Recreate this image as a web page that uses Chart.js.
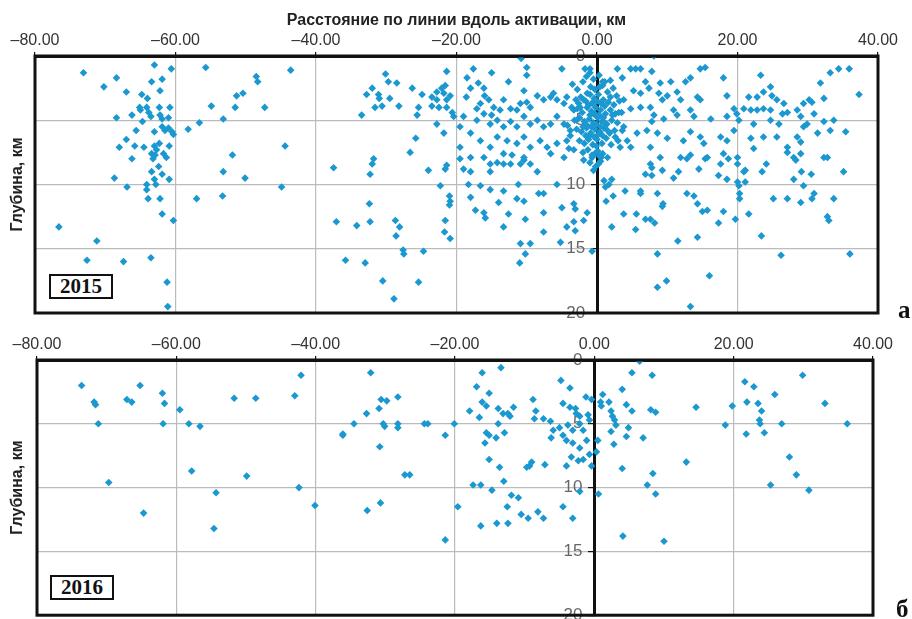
<!DOCTYPE html>
<html>
<head>
<meta charset="utf-8">
<script src="https://cdn.jsdelivr.net/npm/chart.js@4.4.1/dist/chart.umd.min.js"></script>
<style>
body { margin: 0; background: #fff; width: 912px; height: 619px; overflow: hidden; position: relative; }
canvas { position: absolute; left: 0; top: 0; }
.year { position: absolute; border: 2px solid #111; background: #fff; font: bold 21px "Liberation Serif", serif; color: #111; text-align: center; line-height: 21px; width: 60px; height: 21px; }
.panel { position: absolute; font: bold 25px "Liberation Serif", serif; color: #111; }
</style>
</head>
<body>
<canvas id="chart2015" width="912" height="619"></canvas>
<canvas id="chart2016" width="912" height="619"></canvas>
<div class="year" style="left:49px;top:274px">2015</div>
<div class="year" style="left:50px;top:575px">2016</div>
<div class="panel" style="left:898px;top:296px">а</div>
<div class="panel" style="left:896px;top:595px">б</div>
<script>
// axis ticks
const distTicks = [-80, -60, -40, -20, 0, 20, 40];
const depthTicks = [0, 5, 10, 15, 20];

// [distance along the line, km ; depth, km]
const quakes2015 = [
  [-73.1,1.3],[-63.0,0.7],[-60.6,1.0],[-55.7,0.9],[-70.2,2.4],[-68.4,1.7],[-63.4,2.0],[-61.9,1.8],[-67.0,2.8],[-64.8,3.0],
  [-64.0,3.3],[-62.2,2.7],[-48.5,1.6],[-48.3,2.0],[-43.6,1.1],[-51.3,3.1],[-50.4,2.9],[-54.9,3.9],[-51.5,4.0],[-47.3,4.0],
  [-65.1,4.0],[-65.0,4.2],[-64.1,4.0],[-63.8,4.4],[-62.3,4.0],[-60.8,4.0],[-63.5,4.7],[-62.2,4.6],[-61.9,4.9],[-61.0,4.8],
  [-68.4,4.8],[-66.2,4.6],[-64.7,5.1],[-53.2,4.9],[-56.6,5.2],[-58.2,5.7],[-65.6,5.8],[-63.0,5.9],[-61.9,5.5],[-61.5,5.8],
  [-61.0,5.6],[-60.3,6.1],[-60.5,5.9],[-67.0,6.5],[-68.0,7.1],[-65.8,7.0],[-64.5,7.1],[-63.0,7.0],[-62.7,7.3],[-62.3,6.8],
  [-60.9,7.0],[-63.4,7.6],[-62.9,7.7],[-61.7,7.6],[-61.3,7.9],[-66.2,8.0],[-51.9,7.7],[-44.4,7.0],
  [-63.2,8.0],[-62.4,8.6],[-63.4,9.0],[-61.9,9.2],[-63.0,9.6],[-60.9,9.6],[-62.8,10.0],[-64.1,10.0],[-64.1,10.4],[-68.7,9.5],
  [-66.9,10.2],[-63.9,11.1],[-62.2,11.1],[-61.9,12.3],[-60.3,12.8],[-76.6,13.3],[-71.2,14.4],[-72.6,15.9],[-67.4,16.0],[-63.5,15.7],
  [-61.2,17.6],[-61.1,19.5],[-53.2,9.0],[-50.1,9.5],[-57.0,11.1],[-53.3,10.9],[-44.9,10.2],
  [-10.8,0.2],[-17.6,1.0],[-15.0,1.3],[-10.0,0.9],[-10.0,1.5],[-5.0,1.0],[-1.7,1.0],[-1.0,1.0],[-30.1,1.4],[-29.7,2.0],
  [-28.5,2.1],[-32.0,2.5],[-32.8,3.0],[-31.1,3.0],[-31.0,3.3],[-29.5,3.3],[-31.6,4.0],[-30.6,3.9],[-28.2,3.9],[-33.5,4.6],
  [-26.3,2.5],[-21.4,1.2],[-24.9,3.0],[-25.4,4.0],[-25.6,4.6],[-23.5,3.2],[-22.8,2.8],[-22.1,2.5],[-21.6,2.3],[-21.8,2.9],
  [-22.8,3.4],[-22.5,4.0],[-23.5,3.9],[-21.4,3.4],[-20.9,3.1],[-21.4,4.0],[-20.6,4.4],[-20.4,4.7],[-22.8,5.3],[-21.8,6.0],
  [-25.8,6.4],[-26.6,7.5],[-19.0,4.7],[-18.5,1.7],[-18.0,2.5],[-18.6,3.2],[-16.9,2.1],[-16.1,2.5],[-16.0,3.1],[-15.4,3.4],
  [-16.6,3.7],[-17.1,4.1],[-14.7,4.0],[-16.1,4.5],[-15.0,4.6],[-17.1,5.0],[-15.2,5.3],[-13.8,4.2],[-13.3,3.4],[-12.6,2.0],
  [-12.3,4.1],[-11.4,4.2],[-10.9,3.7],[-10.0,3.6],[-9.5,4.0],[-10.4,2.7],[-8.5,3.1],[-7.6,3.4],[-6.6,3.2],[-6.2,2.9],
  [-5.7,3.4],[-4.7,3.7],[-4.3,3.2],[-3.3,4.2],[-2.4,4.0],[-1.9,3.4],[-1.4,2.9],[-0.9,2.4],[-0.7,3.7],[-0.5,4.5],
  [-14.2,5.0],[-13.3,5.5],[-12.3,5.1],[-11.4,5.5],[-10.4,4.7],[-9.5,5.3],[-8.5,5.0],[-7.6,5.5],[-6.6,5.3],[-5.7,4.7],
  [-4.7,5.3],[-3.8,5.8],[-2.9,5.0],[-14.2,6.3],[-12.8,6.6],[-11.4,6.8],[-10.4,6.3],[-9.5,7.1],[-8.1,6.6],[-7.1,7.1],
  [-5.7,6.8],[-4.3,6.6],[-3.3,7.3],[-15.2,7.1],[-16.6,6.6],[-19.5,7.1],[-18.0,7.9],[-16.1,7.9],[-13.3,7.6],[-10.4,7.9],
  [-6.6,7.6],[-4.7,7.9],[-18.0,6.0],[-19.5,5.5],
  [-37.5,8.7],[-31.8,8.0],[-32.0,8.4],[-32.3,9.2],[-24.0,8.9],[-21.6,8.8],[-21.4,8.5],[-22.3,10.1],[-21.0,10.9],[-20.9,11.3],
  [-21.0,11.6],[-32.4,11.5],[-37.1,12.9],[-34.2,13.2],[-32.3,12.9],[-28.7,12.8],[-28.1,13.3],[-28.6,14.0],[-21.6,12.8],[-21.7,13.7],
  [-20.9,14.2],[-35.8,15.9],[-33.0,16.1],[-27.6,15.1],[-27.5,15.4],[-24.7,15.2],[-30.5,17.5],[-25.4,17.6],[-28.9,18.9],
  [-19.5,8.0],[-19.0,8.8],[-18.0,9.0],[-18.3,10.0],[-18.0,11.0],[-17.3,12.0],[-16.1,12.2],[-15.9,12.6],[-16.6,10.1],[-15.2,10.4],
  [-15.2,9.0],[-15.2,8.4],[-14.2,8.3],[-13.3,8.4],[-13.3,10.5],[-14.0,11.4],[-12.3,8.4],[-12.1,7.7],[-10.9,8.4],[-10.4,8.1],
  [-9.5,8.4],[-8.5,9.0],[-8.3,10.7],[-7.6,10.7],[-7.6,12.2],[-7.6,13.7],[-10.4,11.3],[-10.2,12.7],[-11.4,11.1],[-11.2,10.0],
  [-12.6,12.3],[-13.3,13.3],[-10.9,14.6],[-9.5,14.6],[-10.2,15.4],[-11.0,16.1],[-5.7,10.0],[-5.0,11.8],[-4.3,13.3],[-3.3,11.5],
  [-3.1,11.9],[-3.3,12.9],[-3.1,13.6],[-5.2,14.5],[-1.9,8.1],[-0.7,7.9],[-1.4,12.2],[-1.9,12.8],[-0.5,8.9],[-0.7,15.2],
  [8.1,0.0],[2.9,1.0],[4.8,1.0],[5.5,1.0],[6.2,1.0],[7.8,1.2],[14.7,1.0],[15.4,0.9],[18.0,1.7],[23.3,1.5],
  [33.2,1.3],[34.4,1.0],[35.9,1.0],[31.8,2.1],[37.3,3.0],[3.6,1.7],[0.8,2.0],[1.9,1.9],[6.9,2.0],[9.0,2.1],
  [10.5,2.0],[12.6,2.0],[13.3,1.7],[24.7,2.4],[5.2,2.7],[6.2,2.9],[7.4,2.5],[8.8,2.9],[9.3,3.4],[10.0,3.1],
  [11.4,2.8],[11.9,3.4],[14.3,3.2],[14.7,3.4],[10.9,4.2],[7.6,4.0],[6.2,4.0],[4.8,4.1],[3.8,3.4],[3.1,4.4],
  [8.1,4.6],[9.5,4.9],[7.8,5.1],[11.4,4.6],[13.3,4.2],[13.8,4.7],[16.2,4.9],[18.5,3.1],[19.5,4.1],[18.5,4.7],
  [19.9,4.5],[21.6,3.2],[22.8,3.2],[23.7,2.8],[24.9,3.1],[25.6,3.4],[26.6,3.7],[27.1,4.4],[26.4,4.5],[24.7,4.2],
  [23.7,4.1],[22.8,4.2],[21.9,4.2],[20.9,4.1],[20.2,5.0],[22.3,5.3],[24.7,5.0],[25.9,5.3],[28.5,4.2],[29.4,3.7],
  [30.2,3.4],[30.6,3.6],[32.3,3.3],[29.0,4.7],[29.9,5.3],[30.9,4.5],[32.3,5.1],[33.7,5.0],[35.4,5.9],[33.2,5.8],
  [31.4,6.0],[29.4,5.5],[28.5,6.3],[29.0,6.7],[27.1,7.1],[25.6,6.3],[23.7,6.3],[21.9,6.4],[22.3,7.2],[19.5,5.8],
  [18.5,6.6],[17.6,6.3],[14.7,6.3],[13.3,5.9],[15.2,6.8],[12.3,6.6],[10.0,6.4],[8.6,6.0],[7.1,5.8],[5.7,6.0],
  [3.8,5.5],[4.3,6.6],[3.3,7.1],[4.8,7.1],[7.6,7.1],[9.0,7.9],[11.9,7.9],[13.3,7.7],[15.7,7.9],[18.0,7.6],
  [20.0,7.9],[28.0,7.9],[32.3,7.9],
  [12.8,8.0],[15.4,8.0],[18.7,8.0],[27.1,7.5],[29.0,7.6],[32.8,7.9],[28.3,8.1],[7.6,8.4],[7.8,8.7],[6.9,9.2],
  [7.8,9.3],[9.3,8.9],[11.6,9.0],[10.9,9.5],[14.5,8.8],[17.6,8.4],[17.3,9.3],[18.5,9.6],[20.0,8.4],[21.1,8.9],
  [20.9,9.0],[20.0,9.8],[20.2,10.1],[21.1,9.8],[23.5,9.0],[24.1,8.4],[28.0,9.6],[29.1,9.0],[30.5,9.2],[29.4,10.1],
  [35.1,9.0],[1.0,9.7],[1.7,10.0],[2.1,9.6],[1.2,10.2],[0.2,8.4],[0.6,7.9],[-0.3,7.6],[4.0,10.5],[6.2,10.5],
  [6.2,10.7],[8.6,10.7],[1.3,11.3],[2.3,10.9],[9.4,11.5],[9.3,11.7],[12.8,10.7],[13.8,10.9],[14.3,11.5],[15.0,12.1],
  [15.7,12.0],[18.0,12.1],[17.3,13.0],[19.7,12.7],[21.6,12.3],[20.3,10.7],[20.3,11.1],[25.1,11.1],[27.1,11.1],[29.0,11.4],
  [30.6,11.1],[30.9,10.7],[33.7,11.1],[32.8,12.5],[33.0,12.8],[3.8,12.3],[5.6,12.3],[6.9,12.7],[7.6,12.7],[8.2,13.0],
  [5.5,13.5],[2.1,13.3],[11.5,14.4],[14.3,14.1],[23.4,14.0],[8.6,15.4],[26.2,15.5],[36.0,15.4],[16.0,17.1],[9.9,17.5],
  [8.6,18.0],[13.3,19.5],
  // dense cluster around the zero point
  [-3.5,2.2],[-2.8,2.6],[-2.0,2.0],[-1.5,1.6],[-1.0,1.3],[-0.5,1.8],[0.3,1.5],[0.8,2.3],[1.5,2.8],[2.3,2.5],
  [2.8,3.1],[-3.0,3.4],[-2.3,3.2],[-1.6,3.5],[-1.0,3.0],[-0.4,3.3],[0.2,3.0],[0.9,3.4],[1.6,3.6],[2.4,3.8],
  [3.2,3.5],[-3.6,4.0],[-2.8,4.1],[-2.1,4.4],[-1.4,4.0],[-0.8,4.3],[-0.2,4.0],[0.5,4.2],[1.2,4.5],[1.9,4.2],
  [2.6,4.5],[3.5,4.4],[-3.2,5.0],[-2.5,4.8],[-1.8,5.1],[-1.1,4.9],[-0.5,5.2],[0.1,4.8],[0.7,5.1],[1.4,5.3],
  [2.1,5.0],[2.9,5.2],[-2.9,5.7],[-2.2,5.9],[-1.5,5.6],[-0.9,6.0],[-0.3,5.7],[0.4,5.9],[1.0,5.6],[1.8,6.0],
  [2.5,5.8],[-2.5,6.6],[-1.8,6.8],[-1.2,6.5],[-0.6,6.9],[0.0,6.5],[0.7,6.8],[1.3,6.4],[2.0,6.9],[-2.0,7.5],
  [-1.3,7.3],[-0.7,7.7],[0.1,7.4],[0.8,7.6],[1.5,7.9],[-1.0,8.3],[-0.2,8.6],[0.5,8.2],[-3.8,6.2],[-4.2,5.4],
  [-4.0,7.2],[3.0,6.6],[3.6,5.8],
  [-1.2,3.8],[-0.6,3.6],[0.0,3.5],[0.6,3.7],[1.1,3.9],[-1.0,4.6],[-0.3,4.5],[0.3,4.6],[0.9,4.8],[-1.4,5.4],
  [-0.8,5.5],[-0.1,5.3],[0.5,5.5],[1.1,5.2],[-1.1,6.2],[-0.4,6.3],[0.2,6.1],[0.8,6.2],[1.5,5.8],[-0.3,2.6],
  [0.4,2.4],[1.1,2.0],[-2.6,3.7],[1.9,3.2],[2.2,4.6],[-2.0,5.5],[-1.6,6.2],[2.6,6.3],[-0.1,7.0],[0.4,7.8]
];

const quakes2016 = [
  [-73.6,2.0],[-65.2,2.0],[-62.0,2.6],[-71.8,3.3],[-71.6,3.5],[-67.1,3.1],[-66.4,3.3],[-61.7,3.4],[-59.5,3.9],[-71.2,5.0],
  [-61.9,5.0],[-58.2,5.0],[-56.6,5.2],[-51.7,3.0],[-48.6,3.0],[-43.0,2.8],[-42.1,1.2],[-57.8,8.7],
  [-32.1,1.0],[-30.6,3.1],[-29.8,3.2],[-28.2,2.9],[-30.9,3.8],[-32.7,4.2],[-34.5,5.0],[-36.1,5.8],[-36.1,5.9],[-30.3,5.0],
  [-30.1,5.2],[-28.2,5.0],[-28.2,5.3],[-24.4,5.0],[-23.9,5.0],[-20.1,5.0],[-21.4,5.9],[-30.8,6.8],[-16.1,1.0],[-13.4,0.6],
  [-16.9,2.1],[-15.1,2.6],[-16.1,3.3],[-15.5,3.6],[-17.9,4.0],[-16.5,4.5],[-13.8,3.8],[-13.1,4.2],[-12.4,4.2],[-12.1,4.4],
  [-11.6,3.7],[-13.8,5.0],[-15.5,5.7],[-15.1,5.9],[-14.1,6.1],[-12.9,5.7],[-15.7,6.5],[-15.1,7.8],[-13.6,8.4],[-8.8,3.1],
  [-8.4,4.0],[-8.6,4.6],[-7.3,4.6],[-6.3,4.8],[-4.8,1.6],[-3.5,2.2],[-4.5,3.4],[-3.5,3.7],[-2.7,3.8],[-2.6,4.2],
  [-2.1,4.4],[-1.2,2.9],[-0.4,3.1],[-0.9,4.3],[-0.7,4.7],[-5.9,5.5],[-5.0,5.3],[-3.8,5.1],[-3.1,5.5],[-2.1,5.0],
  [-1.6,5.5],[-6.2,6.1],[-4.5,5.9],[-4.0,6.3],[-3.1,6.5],[-2.1,6.9],[-1.1,6.3],[-0.7,7.4],[-3.3,7.6],[-1.6,7.8],
  [-2.3,7.9],[-0.4,8.3],[-4.0,8.3],[-7.1,8.2],[-9.3,8.3],[-9.7,8.4],[-9.0,8.0],
  [0.6,10.5],[-2.1,10.3],[-27.2,9.0],[-26.5,9.0],[-42.4,10.0],[-40.1,11.4],[-32.6,11.8],[-30.7,11.2],[-17.4,9.8],[-16.3,9.8],
  [-14.7,10.2],[-13.0,9.5],[-11.9,10.6],[-10.9,10.8],[-19.6,11.5],[-12.5,11.5],[-10.5,12.1],[-9.5,12.4],[-8.1,11.9],[-7.3,12.4],
  [-4.5,11.5],[-3.1,12.4],[-16.3,13.0],[-14.0,12.8],[-12.4,12.8],[-21.4,14.1],
  [-69.7,9.6],[-64.7,12.0],[-49.9,9.1],[-54.3,10.4],[-54.6,13.2],
  [6.5,0.1],[5.4,1.0],[8.3,1.2],[29.9,1.2],[21.6,1.7],[22.9,2.1],[4.0,2.3],[1.2,2.7],[25.9,2.7],[0.9,3.3],
  [1.0,3.6],[2.1,3.3],[4.6,3.5],[5.4,4.0],[8.1,3.9],[8.8,4.1],[2.4,4.0],[2.6,4.4],[2.9,4.7],[3.1,5.1],
  [2.4,5.6],[14.6,3.7],[19.8,3.6],[21.9,3.3],[23.5,3.4],[24.0,4.0],[23.7,4.7],[23.8,5.0],[24.4,5.7],[21.8,5.8],
  [26.9,5.0],[33.1,3.4],[36.3,5.0],[18.8,5.1],[4.9,5.3],[4.6,6.0],[7.0,6.1],[2.8,6.6],[0.5,6.3],[0.3,7.2],
  [28.0,7.6],[13.2,8.0],[4.0,8.5],[8.4,8.9],[7.6,9.8],[8.8,10.5],[4.1,13.8],[10.0,14.2],[29.0,9.0],[25.3,9.8],
  [30.8,10.2]
];

const pointColor = '#1b98d0';

const framePlugin = {
  id: 'frame',
  afterDraw(chart) {
    const { ctx, chartArea: a } = chart;
    ctx.save();
    ctx.strokeStyle = '#111';
    ctx.lineWidth = 3;
    ctx.strokeRect(a.left, a.top, a.right - a.left, a.bottom - a.top);
    ctx.restore();
  }
};

function fmtDist(v) {
  return (v < 0 ? '\u2013' : '') + Math.abs(v).toFixed(2);
}

// trailing spaces push the right-aligned depth labels off the zero axis
function fmtDepth(v) {
  return v + '\u2002\u2009';
}

function makePanel(canvasId, points, opts) {
  const ctx = document.getElementById(canvasId).getContext('2d');
  return new Chart(ctx, {
    type: 'scatter',
    data: {
      datasets: [{
        data: points.map(p => ({ x: p[0], y: p[1] })),
        backgroundColor: pointColor,
        borderWidth: 0,
        pointStyle: 'rectRot',
        pointRadius: 3.8,
        pointHoverRadius: 3.8
      }]
    },
    options: {
      responsive: false,
      animation: false,
      events: [],
      layout: { padding: opts.padding },
      plugins: { legend: { display: false }, tooltip: { enabled: false } },
      scales: {
        x: {
          type: 'linear',
          position: 'top',
          min: distTicks[0],
          max: distTicks[distTicks.length - 1],
          afterBuildTicks: s => { s.ticks = distTicks.map(v => ({ value: v })); },
          afterFit: s => { s.height = opts.xHeight; },
          ticks: {
            callback: v => fmtDist(v),
            font: { family: '"Liberation Sans", Arial, sans-serif', size: 16 },
            color: '#333',
            padding: 2,
            maxRotation: 0
          },
          grid: { color: '#bbb', lineWidth: 1.2, tickLength: 4, tickColor: '#111' },
          border: { color: '#111', width: 3 },
          title: {
            display: opts.showTitle,
            text: 'Расстояние по линии вдоль активации, км',
            font: { family: '"Liberation Sans", Arial, sans-serif', size: 16, weight: 'bold' },
            color: '#222',
            padding: { top: 11, bottom: 0 }
          }
        },
        y: {
          type: 'linear',
          position: { x: 0 },
          reverse: true,
          min: depthTicks[0],
          max: depthTicks[depthTicks.length - 1],
          afterBuildTicks: s => { s.ticks = depthTicks.map(v => ({ value: v })); },
          afterFit: s => { s.paddingTop = 0; s.paddingBottom = 0; },
          ticks: {
            callback: v => fmtDepth(v),
            font: { family: '"Liberation Sans", Arial, sans-serif', size: 17 },
            color: '#666',
            padding: 2
          },
          grid: { color: '#bbb', lineWidth: 1.2, tickLength: 5, tickColor: '#111' },
          border: { color: '#111', width: 3 }
        },
        yTitle: {
          type: 'linear',
          position: 'left',
          afterFit: s => { s.width = opts.titleWidth; },
          ticks: { display: false },
          grid: { display: false },
          border: { display: false },
          title: {
            display: true,
            text: 'Глубина, км',
            font: { family: '"Liberation Sans", Arial, sans-serif', size: 16, weight: 'bold' },
            color: '#222',
            padding: { top: 8, bottom: 0 }
          }
        }
      }
    },
    plugins: [framePlugin]
  });
}

makePanel('chart2015', quakes2015, {
  padding: { left: 0, right: 34, top: 0, bottom: 306 },
  xHeight: 56, titleWidth: 35, showTitle: true
});
makePanel('chart2016', quakes2016, {
  padding: { left: 0, right: 39, top: 320, bottom: 3 },
  xHeight: 40, titleWidth: 37, showTitle: false
});
</script>
</body>
</html>
